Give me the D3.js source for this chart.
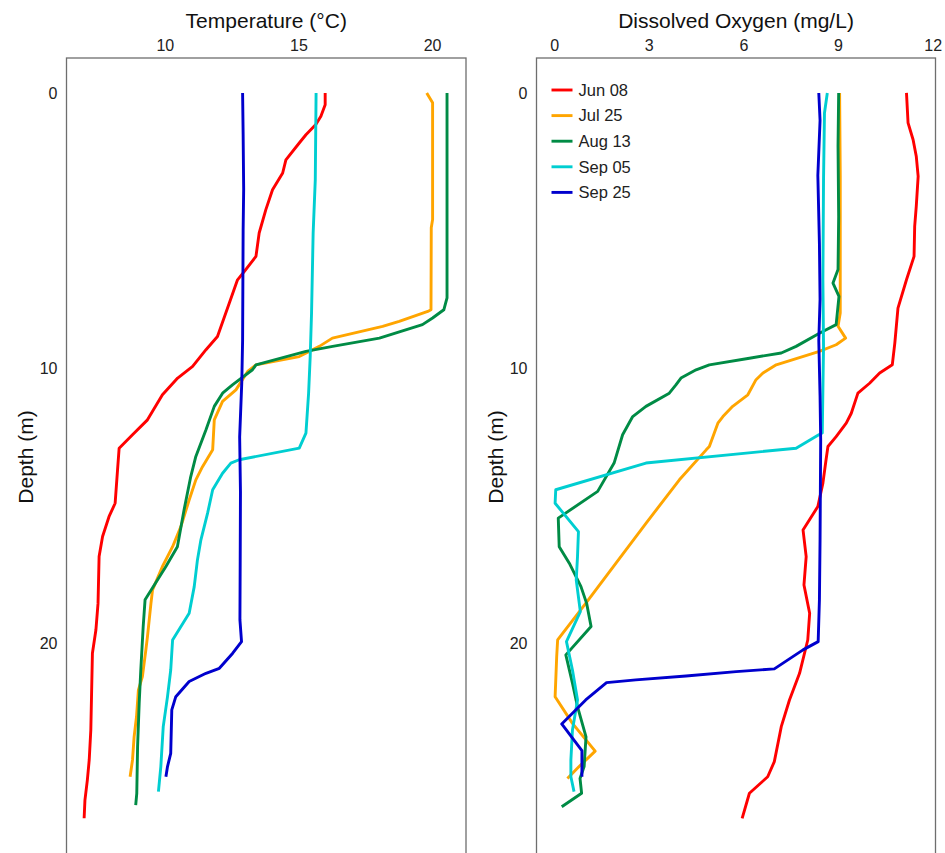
<!DOCTYPE html>
<html>
<head>
<meta charset="utf-8">
<script src="https://cdn.jsdelivr.net/npm/d3@7"></script>
<style>
	body { margin: 0; background: #fff; }
	text { font-family: "Liberation Sans", Arial, sans-serif; }
</style>
</head>
<body>
<svg id="chart" width="945" height="853"></svg>
<script>
'use strict';

// series labels and colours
var dates = ["Jun 08", "Jul 25", "Aug 13", "Sep 05", "Sep 25"];
var colors = ["#ff0000", "#ffa500", "#008b45", "#00ced1", "#0000cd"];

var tempTicks = [10, 15, 20];
var oxyTicks = [0, 3, 6, 9, 12];
var depthTicks = [0, 10, 20];

// temperature profiles, [depth m, degC]
var tempJun08 = [[0,16.0],[0.43,16.0],[0.85,15.84],[1.15,15.65],[1.52,15.28],[1.82,15.03],[2.43,14.53],[2.91,14.41],[3.52,14.03],[4.24,13.78],[5.09,13.53],[5.94,13.41],[6.49,12.97],[6.79,12.72],[7.64,12.41],[8.85,11.97],[9.33,11.54],[9.94,11.04],[10.36,10.48],[10.97,9.91],[11.88,9.35],[12.42,8.79],[12.91,8.29],[13.7,8.23],[14.91,8.14],[15.4,7.91],[16.12,7.67],[16.85,7.54],[18.55,7.5],[19.52,7.42],[20.36,7.29],[23.15,7.23],[24.24,7.17],[24.97,7.1],[25.7,7.01],[26.36,6.98]];
var tempJul25 = [[0,19.8],[0.36,20.02],[4.6,20.02],[4.9,19.97],[7.88,19.96],[7.94,19.84],[8.3,18.77],[8.48,18.15],[8.91,16.27],[9.21,15.78],[9.58,15.03],[9.88,13.41],[10.12,13.1],[10.79,12.66],[11.21,12.16],[11.88,11.85],[12.97,11.79],[13.58,11.41],[14.06,11.16],[14.79,10.91],[15.76,10.6],[16.49,10.29],[17.21,9.91],[18.06,9.54],[18.55,9.48],[19.76,9.35],[20.24,9.29],[21.21,9.16],[21.7,9.01],[22.67,8.94],[23.4,8.85],[24.24,8.79],[24.85,8.7]];
var tempAug13 = [[0,20.56],[7.45,20.56],[7.88,20.44],[8.18,20.02],[8.42,19.64],[8.91,18.03],[9.21,16.28],[9.39,15.28],[9.88,13.41],[10.06,13.28],[10.61,12.53],[10.91,12.16],[11.39,11.85],[12.24,11.54],[13.21,11.16],[13.94,10.97],[15.15,10.72],[16.49,10.47],[17.21,10.04],[18.42,9.26],[19.39,9.19],[20.97,9.1],[22.18,9.04],[23.76,8.98],[25.45,8.95],[25.88,8.91]];
var tempSep05 = [[0,15.66],[3.15,15.63],[5.09,15.55],[8.0,15.49],[9.58,15.44],[10.91,15.38],[12.36,15.28],[12.91,15.03],[13.33,12.78],[13.45,12.47],[13.82,12.16],[14.42,11.79],[15.27,11.6],[16.24,11.35],[16.97,11.22],[17.94,11.1],[18.91,10.91],[19.88,10.29],[20.97,10.22],[21.94,10.1],[23.03,9.94],[24.48,9.85],[25.39,9.76]];
var tempSep25 = [[0,12.91],[1.5,12.93],[3.5,12.95],[5.0,12.93],[7.0,12.92],[9.0,12.91],[10.5,12.88],[12.5,12.8],[14.5,12.83],[17.0,12.82],[19.15,12.81],[19.94,12.87],[20.36,12.54],[20.91,12.04],[21.09,11.54],[21.39,10.91],[21.94,10.41],[22.42,10.26],[24.0,10.22],[24.48,10.1],[24.85,10.04]];

// dissolved oxygen profiles, [depth m, mg/L]
var oxyJun08 = [[0,11.17],[1.09,11.22],[1.7,11.38],[2.3,11.48],[3.03,11.54],[4.12,11.48],[4.85,11.43],[5.94,11.41],[6.79,11.17],[7.82,10.9],[9.09,10.8],[9.88,10.72],[10.18,10.32],[10.55,10.0],[10.91,9.63],[11.64,9.42],[12.0,9.26],[12.49,8.94],[12.85,8.68],[13.33,8.62],[14.18,8.52],[15.03,8.36],[15.88,7.89],[16.85,7.99],[17.88,7.92],[18.91,8.1],[19.88,8.04],[21.09,7.78],[22.06,7.46],[23.03,7.2],[24.3,6.98],[24.85,6.77],[25.45,6.19],[26.36,5.96]];
var oxyJul25 = [[0,9.05],[3.0,9.07],[8.0,9.07],[8.48,9.0],[8.91,9.24],[9.15,8.94],[9.39,8.41],[9.88,7.04],[10.18,6.62],[10.42,6.4],[10.97,6.14],[11.39,5.66],[11.76,5.35],[12.0,5.19],[12.85,4.92],[12.97,4.82],[14.06,3.97],[15.64,2.91],[17.09,1.96],[18.55,1.0],[19.88,0.11],[20.49,0.08],[21.94,0.03],[22.91,0.58],[23.92,1.3],[24.48,0.79],[24.91,0.42]];
var oxyAug13 = [[0,9.02],[1.94,9.0],[4.5,9.02],[6.42,9.0],[6.91,8.84],[7.39,9.03],[8.42,8.94],[8.73,8.41],[9.21,7.67],[9.45,7.2],[9.64,6.19],[9.88,4.92],[10.06,4.5],[10.36,4.02],[10.61,3.86],[10.91,3.65],[11.39,2.91],[11.76,2.49],[12.42,2.17],[13.45,1.9],[14.48,1.38],[15.45,0.13],[16.49,0.16],[17.09,0.48],[17.94,0.85],[18.55,1.03],[19.39,1.17],[20.42,0.37],[21.45,0.58],[22.3,0.74],[23.4,1.01],[24.48,0.95],[24.91,0.82],[25.45,0.87],[25.94,0.24]];
var oxySep05 = [[0,8.66],[0.73,8.57],[3.15,8.54],[6.79,8.52],[9.21,8.54],[12.36,8.5],[12.42,8.39],[12.91,7.67],[13.45,2.91],[14.42,0.05],[14.91,0.03],[15.94,0.77],[16.85,0.74],[17.7,0.7],[18.85,0.83],[19.94,0.39],[20.97,0.58],[22.06,0.74],[23.15,0.58],[24.24,0.53],[24.85,0.53],[25.39,0.63]];
var oxySep25 = [[0,8.39],[1.0,8.43],[3.0,8.36],[5.5,8.41],[7.5,8.43],[9.0,8.39],[11.0,8.43],[12.61,8.45],[16.24,8.43],[18.42,8.41],[19.94,8.37],[20.24,7.89],[20.93,6.98],[21.03,5.77],[21.19,4.18],[21.33,2.59],[21.43,1.66],[22.06,1.0],[22.93,0.24],[23.9,0.88],[24.85,0.88]];

var tempSeries = [tempJun08, tempJul25, tempAug13, tempSep05, tempSep25];
var oxySeries = [oxyJun08, oxyJul25, oxyAug13, oxySep05, oxySep25];

var svg = d3.select("#chart");

var plotTop = 58, plotBottom = 856;

var y = d3.scaleLinear()
	.domain([-1.27, 27.73])
	.range([plotTop, plotBottom]);

var panels = [
	{ title: "Temperature (\u00b0C)", left: 66.5, right: 466, domain: [6.32, 21.27], ticks: tempTicks, series: tempSeries },
	{ title: "Dissolved Oxygen (mg/L)", left: 536.5, right: 935.5, domain: [-0.56, 12.09], ticks: oxyTicks, series: oxySeries }
];

function drawPanel(p, showLegend) {
	var x = d3.scaleLinear().domain(p.domain).range([p.left, p.right]);
	var g = svg.append("g");

	var line = d3.line()
		.x(function(d) { return x(d[1]); })
		.y(function(d) { return y(d[0]); });

	g.selectAll("path.profile")
		.data(p.series)
		.enter().append("path")
		.attr("class", "profile")
		.attr("d", line)
		.attr("fill", "none")
		.attr("stroke", function(d, i) { return colors[i]; })
		.attr("stroke-width", 2.9)
		.attr("stroke-linejoin", "round");

	g.append("rect")
		.attr("x", p.left)
		.attr("y", plotTop)
		.attr("width", p.right - p.left)
		.attr("height", plotBottom - plotTop)
		.attr("fill", "none")
		.attr("stroke", "#6e6e6e")
		.attr("stroke-width", 1.3);

	// top axis, labels only
	var xAxis = d3.axisTop(x).tickValues(p.ticks).tickSize(0).tickPadding(0);
	var xg = g.append("g").attr("transform", "translate(0," + (plotTop - 7) + ")").call(xAxis);
	xg.select(".domain").remove();
	xg.selectAll("text").attr("font-size", 16).attr("fill", "#222");

	var yAxis = d3.axisLeft(y).tickValues(depthTicks).tickSize(0).tickPadding(0);
	var yg = g.append("g").attr("transform", "translate(" + (p.left - 9) + ",0)").call(yAxis);
	yg.select(".domain").remove();
	yg.selectAll("text").attr("font-size", 16).attr("fill", "#222");

	g.append("text")
		.attr("x", (p.left + p.right) / 2)
		.attr("y", 28)
		.attr("text-anchor", "middle")
		.attr("font-size", 21)
		.attr("fill", "#111")
		.text(p.title);

	g.append("text")
		.attr("transform", "translate(" + (p.left - 34) + "," + ((plotTop + plotBottom) / 2) + ") rotate(-90)")
		.attr("text-anchor", "middle")
		.attr("font-size", 21)
		.attr("fill", "#111")
		.text("Depth (m)");

	if (showLegend) {
		var lg = g.append("g").attr("transform", "translate(" + (p.left + 15) + ",90)");
		var item = lg.selectAll("g")
			.data(dates)
			.enter().append("g")
			.attr("transform", function(d, i) { return "translate(0," + (i * 25.6) + ")"; });
		item.append("line")
			.attr("x1", 0).attr("x2", 21)
			.attr("stroke", function(d, i) { return colors[i]; })
			.attr("stroke-width", 2.9);
		item.append("text")
			.attr("x", 27)
			.attr("dy", "0.35em")
			.attr("font-size", 16.5)
			.attr("fill", "#222")
			.text(function(d) { return d; });
	}
}

drawPanel(panels[0], false);
drawPanel(panels[1], true);
</script>
</body>
</html>
